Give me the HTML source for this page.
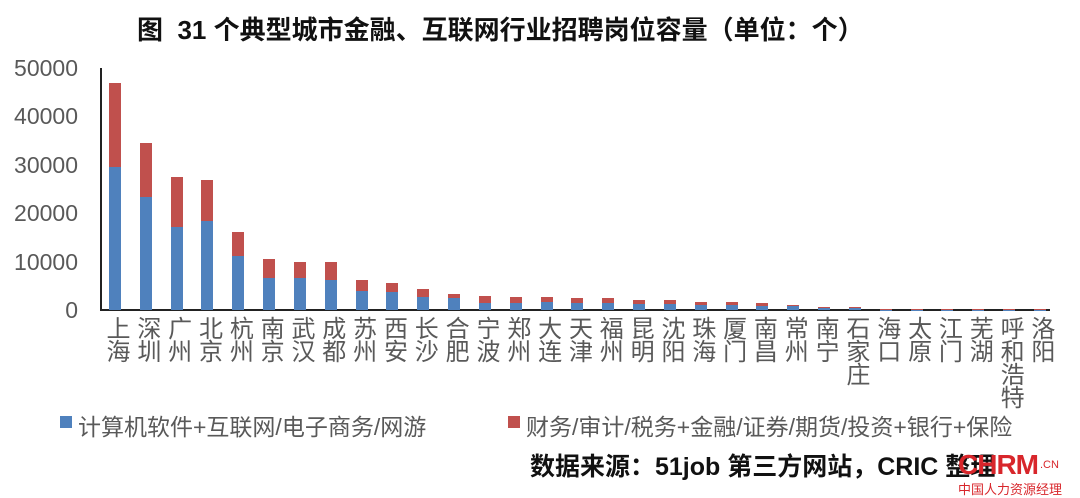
<!DOCTYPE html>
<html><head><meta charset="utf-8"><style>
body{margin:0;width:1080px;height:497px;background:#fff;overflow:hidden;position:relative;font-family:"Liberation Sans","Noto Sans CJK SC",sans-serif;}
.t{position:absolute;white-space:nowrap}
.yl{position:absolute;right:1002px;font-size:23px;color:#595959;line-height:23px}
.bar{position:absolute;width:12px}
.xl{position:absolute;top:316px;writing-mode:vertical-rl;font-size:24px;color:#595959;line-height:24px;letter-spacing:-1px}
</style></head><body>
<div class="t" style="left:137px;top:10px;font-size:26px;font-weight:bold;color:#111">图&nbsp; 31 个典型城市金融、互联网行业招聘岗位容量（单位：个）</div>
<div style="position:absolute;left:100px;top:68px;width:2px;height:243px;background:#222"></div>
<div style="position:absolute;left:100px;top:309px;width:950px;height:2px;background:#222"></div>
<div id="c"></div>
<div style="position:absolute;left:60px;top:416px;width:12px;height:12px;background:#4f81bd"></div>
<div class="t" style="left:78px;top:408px;font-size:23px;color:#595959">计算机软件+互联网/电子商务/网游</div>
<div style="position:absolute;left:508px;top:416px;width:12px;height:12px;background:#c0504d"></div>
<div class="t" style="left:526px;top:408px;font-size:23px;color:#595959">财务/审计/税务+金融/证券/期货/投资+银行+保险</div>
<div class="t" style="left:530px;top:447px;font-size:25px;font-weight:bold;color:#111">数据来源：51job 第三方网站，CRIC 整理</div>
<div class="t" style="left:958px;top:449px;font-size:28px;font-weight:bold;color:#d8262b;letter-spacing:-1px">CHRM</div>
<div class="t" style="left:1040px;top:459px;font-size:11px;color:#d8262b">.CN</div>
<div class="t" style="left:958px;top:479px;font-size:13px;color:#d8262b">中国人力资源经理</div>
<script>
var d=[["上海",29500,46900],["深圳",23300,34500],["广州",17100,27500],["北京",18400,26900],["杭州",11200,16100],["南京",6600,10500],["武汉",6600,9900],["成都",6200,9900],["苏州",3900,6200],["西安",3700,5500],["长沙",2700,4300],["合肥",2500,3300],["宁波",1400,2900],["郑州",1400,2700],["大连",1600,2700],["天津",1500,2400],["福州",1400,2400],["昆明",1200,2000],["沈阳",1200,2000],["珠海",1100,1700],["厦门",1100,1700],["南昌",900,1400],["常州",900,1000],["南宁",500,700],["石家庄",500,700],["海口",100,300],["太原",100,300],["江门",100,300],["芜湖",100,300],["呼和浩特",100,300],["洛阳",100,300]];
var h="",k=4.84/1000;
[0,10000,20000,30000,40000,50000].forEach(function(v){h+='<div class="yl" style="top:'+(310-v*k-11)+'px">'+v+'</div>'});
d.forEach(function(r,i){var cx=115+i*30.83,b=r[1]*k,t=r[2]*k;
h+='<div class="bar" style="left:'+(cx-6)+'px;top:'+(310-t)+'px;height:'+(t-b)+'px;background:#c0504d"></div>';
h+='<div class="bar" style="left:'+(cx-6)+'px;top:'+(310-b)+'px;height:'+b+'px;background:#4f81bd"></div>';
h+='<div class="xl" style="left:'+(cx-12)+'px">'+r[0]+'</div>';});
document.getElementById("c").innerHTML=h;
</script>
</body></html>
